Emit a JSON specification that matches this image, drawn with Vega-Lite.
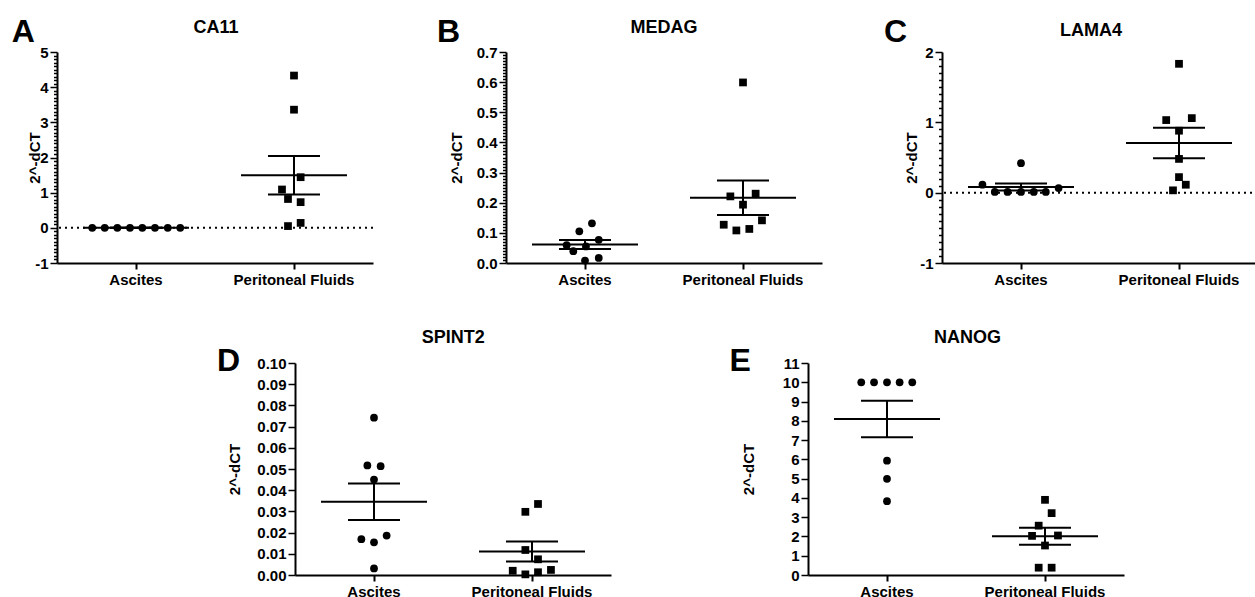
{
  "$schema": "https://vega.github.io/schema/vega-lite/v6.json",
  "padding": {"left": 11, "top": 15, "right": 0, "bottom": 0},
  "background": "white",
  "datasets": {
    "A": [
      {"g": "Ascites", "v": 0, "j": -0.277}, {"g": "Ascites", "v": 0, "j": -0.198}, {"g": "Ascites", "v": 0, "j": -0.118}, {"g": "Ascites", "v": 0, "j": -0.038},
      {"g": "Ascites", "v": 0, "j": 0.04}, {"g": "Ascites", "v": 0, "j": 0.12}, {"g": "Ascites", "v": 0, "j": 0.201}, {"g": "Ascites", "v": 0, "j": 0.28},
      {"g": "Peritoneal Fluids", "v": 4.33, "j": 0}, {"g": "Peritoneal Fluids", "v": 3.36, "j": 0}, {"g": "Peritoneal Fluids", "v": 1.44, "j": 0.042}, {"g": "Peritoneal Fluids", "v": 1.09, "j": -0.076},
      {"g": "Peritoneal Fluids", "v": 0.82, "j": -0.038}, {"g": "Peritoneal Fluids", "v": 0.73, "j": 0.042}, {"g": "Peritoneal Fluids", "v": 0.14, "j": 0.042}, {"g": "Peritoneal Fluids", "v": 0.05, "j": -0.038}
    ],
    "B": [
      {"g": "Ascites", "v": 0.1316, "j": 0.044}, {"g": "Ascites", "v": 0.105, "j": -0.036}, {"g": "Ascites", "v": 0.077, "j": 0.087}, {"g": "Ascites", "v": 0.059, "j": -0.116},
      {"g": "Ascites", "v": 0.055, "j": 0.006}, {"g": "Ascites", "v": 0.039, "j": -0.074}, {"g": "Ascites", "v": 0.017, "j": 0.087}, {"g": "Ascites", "v": 0.008, "j": 0},
      {"g": "Peritoneal Fluids", "v": 0.599, "j": 0}, {"g": "Peritoneal Fluids", "v": 0.221, "j": -0.08}, {"g": "Peritoneal Fluids", "v": 0.23, "j": 0.08}, {"g": "Peritoneal Fluids", "v": 0.1935, "j": 0},
      {"g": "Peritoneal Fluids", "v": 0.127, "j": -0.122}, {"g": "Peritoneal Fluids", "v": 0.1415, "j": 0.12}, {"g": "Peritoneal Fluids", "v": 0.108, "j": -0.042}, {"g": "Peritoneal Fluids", "v": 0.113, "j": 0.04}
    ],
    "C": [
      {"g": "Ascites", "v": 0.419, "j": 0}, {"g": "Ascites", "v": 0.113, "j": -0.244}, {"g": "Ascites", "v": 0.066, "j": 0.238}, {"g": "Ascites", "v": 0.01, "j": -0.166},
      {"g": "Ascites", "v": 0.01, "j": -0.085}, {"g": "Ascites", "v": 0.01, "j": 0}, {"g": "Ascites", "v": 0.01, "j": 0.081}, {"g": "Ascites", "v": 0.01, "j": 0.157},
      {"g": "Peritoneal Fluids", "v": 1.832, "j": 0}, {"g": "Peritoneal Fluids", "v": 1.032, "j": -0.081}, {"g": "Peritoneal Fluids", "v": 1.06, "j": 0.081}, {"g": "Peritoneal Fluids", "v": 0.881, "j": 0},
      {"g": "Peritoneal Fluids", "v": 0.48, "j": 0}, {"g": "Peritoneal Fluids", "v": 0.221, "j": 0}, {"g": "Peritoneal Fluids", "v": 0.113, "j": 0.043}, {"g": "Peritoneal Fluids", "v": 0.033, "j": -0.038}
    ],
    "D": [
      {"g": "Ascites", "v": 0.0742, "j": 0}, {"g": "Ascites", "v": 0.0517, "j": -0.042}, {"g": "Ascites", "v": 0.0513, "j": 0.042}, {"g": "Ascites", "v": 0.045, "j": 0},
      {"g": "Ascites", "v": 0.0169, "j": -0.08}, {"g": "Ascites", "v": 0.0186, "j": 0.08}, {"g": "Ascites", "v": 0.0154, "j": 0}, {"g": "Ascites", "v": 0.0031, "j": 0},
      {"g": "Peritoneal Fluids", "v": 0.0335, "j": 0.038}, {"g": "Peritoneal Fluids", "v": 0.0298, "j": -0.042}, {"g": "Peritoneal Fluids", "v": 0.0118, "j": -0.042}, {"g": "Peritoneal Fluids", "v": 0.0074, "j": 0.038},
      {"g": "Peritoneal Fluids", "v": 0.002, "j": -0.122}, {"g": "Peritoneal Fluids", "v": 0.0003, "j": -0.042}, {"g": "Peritoneal Fluids", "v": 0.0013, "j": 0.038}, {"g": "Peritoneal Fluids", "v": 0.0024, "j": 0.12}
    ],
    "E": [
      {"g": "Ascites", "v": 10, "j": -0.163}, {"g": "Ascites", "v": 10, "j": -0.082}, {"g": "Ascites", "v": 10, "j": 0}, {"g": "Ascites", "v": 10, "j": 0.08},
      {"g": "Ascites", "v": 10, "j": 0.16}, {"g": "Ascites", "v": 5.93, "j": 0}, {"g": "Ascites", "v": 4.99, "j": 0}, {"g": "Ascites", "v": 3.83, "j": 0},
      {"g": "Peritoneal Fluids", "v": 3.9, "j": 0}, {"g": "Peritoneal Fluids", "v": 3.21, "j": 0.042}, {"g": "Peritoneal Fluids", "v": 2.56, "j": -0.04}, {"g": "Peritoneal Fluids", "v": 2.03, "j": -0.082},
      {"g": "Peritoneal Fluids", "v": 2.05, "j": 0.082}, {"g": "Peritoneal Fluids", "v": 1.53, "j": 0}, {"g": "Peritoneal Fluids", "v": 0.38, "j": -0.04}, {"g": "Peritoneal Fluids", "v": 0.38, "j": 0.042}
    ]
  },
  "vconcat": [
    {
      "hconcat": [
        {
          "width": 316, "height": 211,
          "data": {"name": "A"},
          "layer": [
            {"data": {"values": [{}]}, "mark": {"type": "rule", "strokeDash": [2, 4], "strokeWidth": 2, "color": "black"},
             "encoding": {"y": {"datum": 0, "type": "quantitative", "scale": {"domain": [-1, 5], "nice": false}, "title": "2^-dCT"}}},
            {"mark": {"type": "tick", "orient": "horizontal", "size": 106, "thickness": 2, "color": "black", "opacity": 1},
             "encoding": {"x": {"field": "g", "type": "nominal", "title": null, "scale": {"domain": ["Ascites", "Peritoneal Fluids"], "paddingInner": 0, "paddingOuter": 0}},
                          "y": {"aggregate": "mean", "field": "v", "type": "quantitative", "scale": {"domain": [-1, 5], "nice": false}, "title": "2^-dCT"}}},
            {"mark": {"type": "errorbar", "extent": "stderr", "size": 52, "thickness": 2, "color": "black", "opacity": 1, "ticks": {"size": 52, "thickness": 2, "color": "black", "opacity": 1}, "rule": {"strokeWidth": 2, "color": "black", "opacity": 1}},
             "encoding": {"x": {"field": "g", "type": "nominal", "title": null, "scale": {"domain": ["Ascites", "Peritoneal Fluids"], "paddingInner": 0, "paddingOuter": 0}},
                          "y": {"field": "v", "type": "quantitative", "scale": {"domain": [-1, 5], "nice": false}, "title": "2^-dCT"}}},
            {"mark": {"type": "point", "filled": true, "opacity": 1, "color": "black", "size": 60},
             "encoding": {"x": {"field": "g", "type": "nominal", "title": null, "scale": {"domain": ["Ascites", "Peritoneal Fluids"], "paddingInner": 0, "paddingOuter": 0}, "axis": {"labelAngle": 0}},
                          "xOffset": {"field": "j", "type": "quantitative", "scale": {"domain": [-0.5, 0.5], "nice": false, "zero": false}},
                          "y": {"field": "v", "type": "quantitative", "scale": {"domain": [-1, 5], "nice": false}, "title": "2^-dCT",
                                "axis": {"titleX": -23, "labelOverlap": false, "tickCount": 200, "values": [-1,-0.9,-0.8,-0.7,-0.6,-0.5,-0.4,-0.3,-0.2,-0.1,0,0.1,0.2,0.3,0.4,0.5,0.6,0.7,0.8,0.9,1,1.1,1.2,1.3,1.4,1.5,1.6,1.7,1.8,1.9,2,2.1,2.2,2.3,2.4,2.5,2.6,2.7,2.8,2.9,3,3.1,3.2,3.3,3.4,3.5,3.6,3.7,3.8,3.9,4,4.1,4.2,4.3,4.4,4.5,4.6,4.7,4.8,4.9,5],
                                         "labelExpr": "abs(datum.value - round(datum.value)) < 0.001 ? toString(round(datum.value)) : ''",
                                         "tickSize": {"condition": {"test": "abs(datum.value - round(datum.value)) < 0.001", "value": 7}, "value": 3.5}}},
                          "shape": {"field": "g", "type": "nominal", "scale": {"domain": ["Ascites", "Peritoneal Fluids"], "range": ["circle", "square"]}, "legend": null}}},
            {"data": {"values": [{}]}, "mark": {"type": "text", "text": "A", "fontSize": 32, "fontWeight": "bold", "align": "left", "baseline": "alphabetic", "color": "black"},
             "encoding": {"x": {"datum": "Ascites", "type": "nominal", "title": null, "scale": {"domain": ["Ascites", "Peritoneal Fluids"], "paddingInner": 0, "paddingOuter": 0}},
                          "xOffset": {"datum": -0.787, "type": "quantitative", "scale": {"domain": [-0.5, 0.5], "nice": false, "zero": false}},
                          "y": {"datum": 5.293, "type": "quantitative", "scale": {"domain": [-1, 5], "nice": false}, "title": "2^-dCT"}}},
            {"data": {"values": [{}]}, "mark": {"type": "text", "text": "CA11", "fontSize": 18, "fontWeight": "bold", "align": "center", "baseline": "alphabetic", "color": "black"},
             "encoding": {"x": {"datum": "Ascites", "type": "nominal", "title": null, "scale": {"domain": ["Ascites", "Peritoneal Fluids"], "paddingInner": 0, "paddingOuter": 0}},
                          "xOffset": {"datum": 0.506, "type": "quantitative", "scale": {"domain": [-0.5, 0.5], "nice": false, "zero": false}},
                          "y": {"datum": 5.532, "type": "quantitative", "scale": {"domain": [-1, 5], "nice": false}, "title": "2^-dCT"}}}
          ]
        },
        {
          "width": 316, "height": 211,
          "data": {"name": "B"},
          "layer": [
            {"mark": {"type": "tick", "orient": "horizontal", "size": 106, "thickness": 2, "color": "black", "opacity": 1},
             "encoding": {"x": {"field": "g", "type": "nominal", "title": null, "scale": {"domain": ["Ascites", "Peritoneal Fluids"], "paddingInner": 0, "paddingOuter": 0}},
                          "y": {"aggregate": "mean", "field": "v", "type": "quantitative", "scale": {"domain": [0, 0.7], "nice": false}, "title": "2^-dCT"}}},
            {"mark": {"type": "errorbar", "extent": "stderr", "size": 52, "thickness": 2, "color": "black", "opacity": 1, "ticks": {"size": 52, "thickness": 2, "color": "black", "opacity": 1}, "rule": {"strokeWidth": 2, "color": "black", "opacity": 1}},
             "encoding": {"x": {"field": "g", "type": "nominal", "title": null, "scale": {"domain": ["Ascites", "Peritoneal Fluids"], "paddingInner": 0, "paddingOuter": 0}},
                          "y": {"field": "v", "type": "quantitative", "scale": {"domain": [0, 0.7], "nice": false}, "title": "2^-dCT"}}},
            {"mark": {"type": "point", "filled": true, "opacity": 1, "color": "black", "size": 60},
             "encoding": {"x": {"field": "g", "type": "nominal", "title": null, "scale": {"domain": ["Ascites", "Peritoneal Fluids"], "paddingInner": 0, "paddingOuter": 0}, "axis": {"labelAngle": 0}},
                          "xOffset": {"field": "j", "type": "quantitative", "scale": {"domain": [-0.5, 0.5], "nice": false, "zero": false}},
                          "y": {"field": "v", "type": "quantitative", "scale": {"domain": [0, 0.7], "nice": false}, "title": "2^-dCT",
                                "axis": {"titleX": -50, "labelOverlap": false, "tickCount": 200, "values": [0,0.01,0.02,0.03,0.04,0.05,0.06,0.07,0.08,0.09,0.1,0.11,0.12,0.13,0.14,0.15,0.16,0.17,0.18,0.19,0.2,0.21,0.22,0.23,0.24,0.25,0.26,0.27,0.28,0.29,0.3,0.31,0.32,0.33,0.34,0.35,0.36,0.37,0.38,0.39,0.4,0.41,0.42,0.43,0.44,0.45,0.46,0.47,0.48,0.49,0.5,0.51,0.52,0.53,0.54,0.55,0.56,0.57,0.58,0.59,0.6,0.61,0.62,0.63,0.64,0.65,0.66,0.67,0.68,0.69,0.7],
                                         "labelExpr": "abs(datum.value*10 - round(datum.value*10)) < 0.001 ? format(datum.value, '.1f') : ''",
                                         "tickSize": {"condition": {"test": "abs(datum.value*10 - round(datum.value*10)) < 0.001", "value": 7}, "value": 3.5}}},
                          "shape": {"field": "g", "type": "nominal", "scale": {"domain": ["Ascites", "Peritoneal Fluids"], "range": ["circle", "square"]}, "legend": null}}},
            {"data": {"values": [{}]}, "mark": {"type": "text", "text": "B", "fontSize": 32, "fontWeight": "bold", "align": "left", "baseline": "alphabetic", "color": "black"},
             "encoding": {"x": {"datum": "Ascites", "type": "nominal", "title": null, "scale": {"domain": ["Ascites", "Peritoneal Fluids"], "paddingInner": 0, "paddingOuter": 0}},
                          "xOffset": {"datum": -0.937, "type": "quantitative", "scale": {"domain": [-0.5, 0.5], "nice": false, "zero": false}},
                          "y": {"datum": 0.734, "type": "quantitative", "scale": {"domain": [0, 0.7], "nice": false}, "title": "2^-dCT"}}},
            {"data": {"values": [{}]}, "mark": {"type": "text", "text": "MEDAG", "fontSize": 18, "fontWeight": "bold", "align": "center", "baseline": "alphabetic", "color": "black"},
             "encoding": {"x": {"datum": "Ascites", "type": "nominal", "title": null, "scale": {"domain": ["Ascites", "Peritoneal Fluids"], "paddingInner": 0, "paddingOuter": 0}},
                          "xOffset": {"datum": 0.5, "type": "quantitative", "scale": {"domain": [-0.5, 0.5], "nice": false, "zero": false}},
                          "y": {"datum": 0.762, "type": "quantitative", "scale": {"domain": [0, 0.7], "nice": false}, "title": "2^-dCT"}}}
          ]
        },
        {
          "width": 316, "height": 211,
          "data": {"name": "C"},
          "layer": [
            {"data": {"values": [{}]}, "mark": {"type": "rule", "strokeDash": [2, 4], "strokeWidth": 2, "color": "black"},
             "encoding": {"y": {"datum": 0, "type": "quantitative", "scale": {"domain": [-1, 2], "nice": false}, "title": "2^-dCT"}}},
            {"mark": {"type": "tick", "orient": "horizontal", "size": 106, "thickness": 2, "color": "black", "opacity": 1},
             "encoding": {"x": {"field": "g", "type": "nominal", "title": null, "scale": {"domain": ["Ascites", "Peritoneal Fluids"], "paddingInner": 0, "paddingOuter": 0}},
                          "y": {"aggregate": "mean", "field": "v", "type": "quantitative", "scale": {"domain": [-1, 2], "nice": false}, "title": "2^-dCT"}}},
            {"mark": {"type": "errorbar", "extent": "stderr", "size": 52, "thickness": 2, "color": "black", "opacity": 1, "ticks": {"size": 52, "thickness": 2, "color": "black", "opacity": 1}, "rule": {"strokeWidth": 2, "color": "black", "opacity": 1}},
             "encoding": {"x": {"field": "g", "type": "nominal", "title": null, "scale": {"domain": ["Ascites", "Peritoneal Fluids"], "paddingInner": 0, "paddingOuter": 0}},
                          "y": {"field": "v", "type": "quantitative", "scale": {"domain": [-1, 2], "nice": false}, "title": "2^-dCT"}}},
            {"mark": {"type": "point", "filled": true, "opacity": 1, "color": "black", "size": 60},
             "encoding": {"x": {"field": "g", "type": "nominal", "title": null, "scale": {"domain": ["Ascites", "Peritoneal Fluids"], "paddingInner": 0, "paddingOuter": 0}, "axis": {"labelAngle": 0}},
                          "xOffset": {"field": "j", "type": "quantitative", "scale": {"domain": [-0.5, 0.5], "nice": false, "zero": false}},
                          "y": {"field": "v", "type": "quantitative", "scale": {"domain": [-1, 2], "nice": false}, "title": "2^-dCT",
                                "axis": {"titleX": -31, "labelOverlap": false, "tickCount": 200, "values": [-1,-0.9,-0.8,-0.7,-0.6,-0.5,-0.4,-0.3,-0.2,-0.1,0,0.1,0.2,0.3,0.4,0.5,0.6,0.7,0.8,0.9,1,1.1,1.2,1.3,1.4,1.5,1.6,1.7,1.8,1.9,2],
                                         "labelExpr": "abs(datum.value - round(datum.value)) < 0.001 ? toString(round(datum.value)) : ''",
                                         "tickSize": {"condition": {"test": "abs(datum.value - round(datum.value)) < 0.001", "value": 7}, "value": 3.5}}},
                          "shape": {"field": "g", "type": "nominal", "scale": {"domain": ["Ascites", "Peritoneal Fluids"], "range": ["circle", "square"]}, "legend": null}}},
            {"data": {"values": [{}]}, "mark": {"type": "text", "text": "C", "fontSize": 32, "fontWeight": "bold", "align": "left", "baseline": "alphabetic", "color": "black"},
             "encoding": {"x": {"datum": "Ascites", "type": "nominal", "title": null, "scale": {"domain": ["Ascites", "Peritoneal Fluids"], "paddingInner": 0, "paddingOuter": 0}},
                          "xOffset": {"datum": -0.867, "type": "quantitative", "scale": {"domain": [-0.5, 0.5], "nice": false, "zero": false}},
                          "y": {"datum": 2.142, "type": "quantitative", "scale": {"domain": [-1, 2], "nice": false}, "title": "2^-dCT"}}},
            {"data": {"values": [{}]}, "mark": {"type": "text", "text": "LAMA4", "fontSize": 18, "fontWeight": "bold", "align": "center", "baseline": "alphabetic", "color": "black"},
             "encoding": {"x": {"datum": "Ascites", "type": "nominal", "title": null, "scale": {"domain": ["Ascites", "Peritoneal Fluids"], "paddingInner": 0, "paddingOuter": 0}},
                          "xOffset": {"datum": 0.443, "type": "quantitative", "scale": {"domain": [-0.5, 0.5], "nice": false, "zero": false}},
                          "y": {"datum": 2.228, "type": "quantitative", "scale": {"domain": [-1, 2], "nice": false}, "title": "2^-dCT"}}}
          ]
        }
      ],
      "spacing": 62
    },
    {
      "hconcat": [
        {"width": 41, "height": 1, "data": {"values": [{}]}, "mark": {"type": "point", "opacity": 0}},
        {
          "width": 316, "height": 212,
          "data": {"name": "D"},
          "layer": [
            {"mark": {"type": "tick", "orient": "horizontal", "size": 106, "thickness": 2, "color": "black", "opacity": 1},
             "encoding": {"x": {"field": "g", "type": "nominal", "title": null, "scale": {"domain": ["Ascites", "Peritoneal Fluids"], "paddingInner": 0, "paddingOuter": 0}},
                          "y": {"aggregate": "mean", "field": "v", "type": "quantitative", "scale": {"domain": [0, 0.1], "nice": false}, "title": "2^-dCT"}}},
            {"mark": {"type": "errorbar", "extent": "stderr", "size": 52, "thickness": 2, "color": "black", "opacity": 1, "ticks": {"size": 52, "thickness": 2, "color": "black", "opacity": 1}, "rule": {"strokeWidth": 2, "color": "black", "opacity": 1}},
             "encoding": {"x": {"field": "g", "type": "nominal", "title": null, "scale": {"domain": ["Ascites", "Peritoneal Fluids"], "paddingInner": 0, "paddingOuter": 0}},
                          "y": {"field": "v", "type": "quantitative", "scale": {"domain": [0, 0.1], "nice": false}, "title": "2^-dCT"}}},
            {"mark": {"type": "point", "filled": true, "opacity": 1, "color": "black", "size": 60},
             "encoding": {"x": {"field": "g", "type": "nominal", "title": null, "scale": {"domain": ["Ascites", "Peritoneal Fluids"], "paddingInner": 0, "paddingOuter": 0}, "axis": {"labelAngle": 0}},
                          "xOffset": {"field": "j", "type": "quantitative", "scale": {"domain": [-0.5, 0.5], "nice": false, "zero": false}},
                          "y": {"field": "v", "type": "quantitative", "scale": {"domain": [0, 0.1], "nice": false}, "title": "2^-dCT",
                                "axis": {"titleX": -61, "labelOverlap": false, "tickCount": 200, "values": [0,0.01,0.02,0.03,0.04,0.05,0.06,0.07,0.08,0.09,0.1], "format": ".2f", "tickSize": 7}},
                          "shape": {"field": "g", "type": "nominal", "scale": {"domain": ["Ascites", "Peritoneal Fluids"], "range": ["circle", "square"]}, "legend": null}}},
            {"data": {"values": [{}]}, "mark": {"type": "text", "text": "D", "fontSize": 32, "fontWeight": "bold", "align": "left", "baseline": "alphabetic", "color": "black"},
             "encoding": {"x": {"datum": "Ascites", "type": "nominal", "title": null, "scale": {"domain": ["Ascites", "Peritoneal Fluids"], "paddingInner": 0, "paddingOuter": 0}},
                          "xOffset": {"datum": -0.994, "type": "quantitative", "scale": {"domain": [-0.5, 0.5], "nice": false, "zero": false}},
                          "y": {"datum": 0.0964, "type": "quantitative", "scale": {"domain": [0, 0.1], "nice": false}, "title": "2^-dCT"}}},
            {"data": {"values": [{}]}, "mark": {"type": "text", "text": "SPINT2", "fontSize": 18, "fontWeight": "bold", "align": "center", "baseline": "alphabetic", "color": "black"},
             "encoding": {"x": {"datum": "Ascites", "type": "nominal", "title": null, "scale": {"domain": ["Ascites", "Peritoneal Fluids"], "paddingInner": 0, "paddingOuter": 0}},
                          "xOffset": {"datum": 0.502, "type": "quantitative", "scale": {"domain": [-0.5, 0.5], "nice": false, "zero": false}},
                          "y": {"datum": 0.1093, "type": "quantitative", "scale": {"domain": [0, 0.1], "nice": false}, "title": "2^-dCT"}}}
          ]
        },
        {
          "width": 316, "height": 212,
          "data": {"name": "E"},
          "layer": [
            {"mark": {"type": "tick", "orient": "horizontal", "size": 106, "thickness": 2, "color": "black", "opacity": 1},
             "encoding": {"x": {"field": "g", "type": "nominal", "title": null, "scale": {"domain": ["Ascites", "Peritoneal Fluids"], "paddingInner": 0, "paddingOuter": 0}},
                          "y": {"aggregate": "mean", "field": "v", "type": "quantitative", "scale": {"domain": [0, 11], "nice": false}, "title": "2^-dCT"}}},
            {"mark": {"type": "errorbar", "extent": "stderr", "size": 52, "thickness": 2, "color": "black", "opacity": 1, "ticks": {"size": 52, "thickness": 2, "color": "black", "opacity": 1}, "rule": {"strokeWidth": 2, "color": "black", "opacity": 1}},
             "encoding": {"x": {"field": "g", "type": "nominal", "title": null, "scale": {"domain": ["Ascites", "Peritoneal Fluids"], "paddingInner": 0, "paddingOuter": 0}},
                          "y": {"field": "v", "type": "quantitative", "scale": {"domain": [0, 11], "nice": false}, "title": "2^-dCT"}}},
            {"mark": {"type": "point", "filled": true, "opacity": 1, "color": "black", "size": 60},
             "encoding": {"x": {"field": "g", "type": "nominal", "title": null, "scale": {"domain": ["Ascites", "Peritoneal Fluids"], "paddingInner": 0, "paddingOuter": 0}, "axis": {"labelAngle": 0}},
                          "xOffset": {"field": "j", "type": "quantitative", "scale": {"domain": [-0.5, 0.5], "nice": false, "zero": false}},
                          "y": {"field": "v", "type": "quantitative", "scale": {"domain": [0, 11], "nice": false}, "title": "2^-dCT",
                                "axis": {"titleX": -60, "labelOverlap": false, "tickCount": 200, "values": [0,1,2,3,4,5,6,7,8,9,10,11], "format": "d", "tickSize": 7}},
                          "shape": {"field": "g", "type": "nominal", "scale": {"domain": ["Ascites", "Peritoneal Fluids"], "range": ["circle", "square"]}, "legend": null}}},
            {"data": {"values": [{}]}, "mark": {"type": "text", "text": "E", "fontSize": 32, "fontWeight": "bold", "align": "left", "baseline": "alphabetic", "color": "black"},
             "encoding": {"x": {"datum": "Ascites", "type": "nominal", "title": null, "scale": {"domain": ["Ascites", "Peritoneal Fluids"], "paddingInner": 0, "paddingOuter": 0}},
                          "xOffset": {"datum": -0.997, "type": "quantitative", "scale": {"domain": [-0.5, 0.5], "nice": false, "zero": false}},
                          "y": {"datum": 10.6, "type": "quantitative", "scale": {"domain": [0, 11], "nice": false}, "title": "2^-dCT"}}},
            {"data": {"values": [{}]}, "mark": {"type": "text", "text": "NANOG", "fontSize": 18, "fontWeight": "bold", "align": "center", "baseline": "alphabetic", "color": "black"},
             "encoding": {"x": {"datum": "Ascites", "type": "nominal", "title": null, "scale": {"domain": ["Ascites", "Peritoneal Fluids"], "paddingInner": 0, "paddingOuter": 0}},
                          "xOffset": {"datum": 0.509, "type": "quantitative", "scale": {"domain": [-0.5, 0.5], "nice": false, "zero": false}},
                          "y": {"datum": 12.05, "type": "quantitative", "scale": {"domain": [0, 11], "nice": false}, "title": "2^-dCT"}}}
          ]
        }
      ],
      "spacing": 118
    }
  ],
  "spacing": 41,
  "config": {
    "view": {"stroke": null},
    "font": "Liberation Sans",
    "text": {"font": "Liberation Sans"},
    "tick": {"opacity": 1},
    "axis": {
      "grid": false,
      "domainColor": "black", "domainWidth": 2,
      "tickColor": "black", "tickWidth": 1.5,
      "labelColor": "black", "labelFont": "Liberation Sans", "labelFontWeight": "bold", "labelFontSize": 15,
      "titleColor": "black", "titleFont": "Liberation Sans", "titleFontWeight": "bold", "titleFontSize": 15,
      "labelOverlap": false
    },
    "axisX": {"tickSize": 6, "tickWidth": 2, "labelPadding": 3, "labelAngle": 0},
    "axisY": {"labelPadding": 2, "titleBaseline": "middle", "titleAngle": 270}
  }
}
